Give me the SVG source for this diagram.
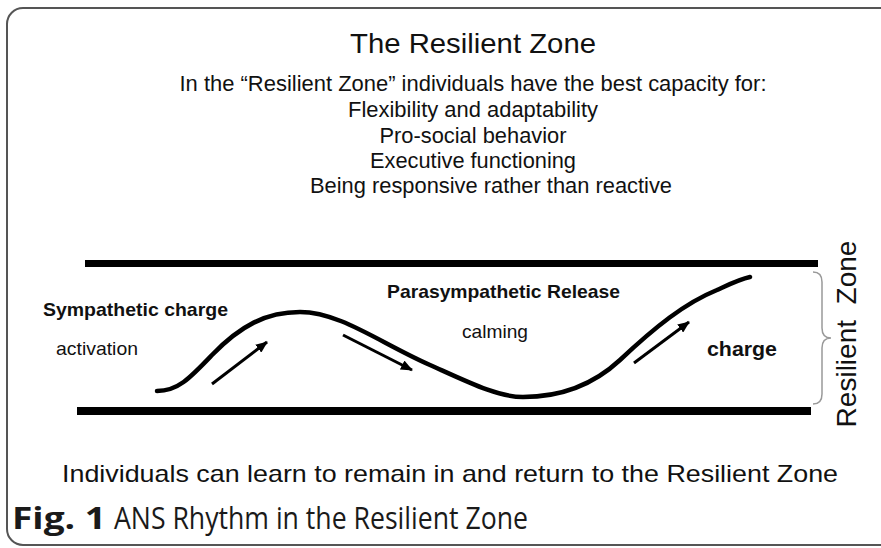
<svg xmlns="http://www.w3.org/2000/svg" width="881" height="548" viewBox="0 0 881 548">
  <defs>
    <marker id="head" markerWidth="12" markerHeight="10" refX="11" refY="5" orient="auto" markerUnits="userSpaceOnUse">
      <path d="M0,0 L12,5 L0,10 Z" fill="#000"/>
    </marker>
    <style>
      text { font-family: "Liberation Sans", Arial, sans-serif; fill: #111; }
      .mid { text-anchor: middle; }
      .bold { font-weight: bold; }
      .bar { fill: #000; }
      .wave { fill: none; stroke: #000; stroke-width: 4.5; stroke-linecap: round; }
      .flow { fill: none; stroke: #000; stroke-width: 3; marker-end: url(#head); }
      .cap { font-family: "Open Sans", "Noto Sans", sans-serif; fill: #1a1a1a; }
    </style>
  </defs>

  <rect width="881" height="548" fill="#fff"/>
  <!-- frame -->
  <rect x="7" y="8" width="900" height="537" rx="16" fill="none" stroke="#555" stroke-width="2"/>

  <!-- heading block -->
  <g id="heading">
    <text x="473" y="53" font-size="28" textLength="246" lengthAdjust="spacingAndGlyphs" class="mid">The Resilient Zone</text>
    <text x="473" y="91" font-size="22.5" textLength="587" lengthAdjust="spacingAndGlyphs" class="mid">In the “Resilient Zone” individuals have the best capacity for:</text>
    <text x="473" y="117" font-size="22.5" textLength="250" lengthAdjust="spacingAndGlyphs" class="mid">Flexibility and adaptability</text>
    <text x="473" y="143" font-size="22.5" textLength="187" lengthAdjust="spacingAndGlyphs" class="mid">Pro-social behavior</text>
    <text x="473" y="168" font-size="22.5" textLength="206" lengthAdjust="spacingAndGlyphs" class="mid">Executive functioning</text>
    <text x="491" y="193" font-size="22.5" textLength="362" lengthAdjust="spacingAndGlyphs" class="mid">Being responsive rather than reactive</text>
  </g>

  <!-- zone boundaries -->
  <g id="upper-bound"><rect class="bar" x="85" y="260" width="733" height="7"/></g>
  <g id="lower-bound"><rect class="bar" x="77" y="407" width="734" height="8"/></g>

  <!-- zone brace and label -->
  <g id="zone-label">
    <path d="M813,272 Q822,272 822,282 L822,328 Q822,338 831,338 Q822,338 822,348 L822,394 Q822,404 813,404" fill="none" stroke="#999" stroke-width="1.5"/>
    <text transform="translate(856,334) rotate(-90)" font-size="28" class="mid" xml:space="preserve">Resilient  Zone</text>
  </g>

  <!-- phase labels -->
  <g id="sympathetic">
    <text x="43" y="316" font-size="19" class="bold" textLength="185" lengthAdjust="spacingAndGlyphs">Sympathetic charge</text>
    <text x="56" y="355" font-size="19" textLength="82" lengthAdjust="spacingAndGlyphs">activation</text>
  </g>
  <g id="parasympathetic">
    <text x="387" y="298" font-size="19" class="bold" textLength="233" lengthAdjust="spacingAndGlyphs">Parasympathetic Release</text>
    <text x="462" y="338" font-size="19" textLength="66" lengthAdjust="spacingAndGlyphs">calming</text>
  </g>
  <g id="recharge">
    <text x="707" y="356" font-size="21" class="bold" textLength="70" lengthAdjust="spacingAndGlyphs">charge</text>
  </g>

  <!-- rhythm curve and direction arrows -->
  <g id="connectors">
    <path class="wave" d="M157,391 C178,391 190,378 212,355 C240,326 266,312 300,312 C340,312 380,343 430,365 C470,383 498,397 523,397 C560,397 592,386 620,360 C655,327 685,303 717,290 C730,284 740,279 750,277"/>
    <line class="flow" x1="212" y1="384" x2="267" y2="342"/>
    <line class="flow" x1="343" y1="335" x2="412" y2="370"/>
    <line class="flow" x1="634" y1="363" x2="689" y2="322"/>
  </g>

  <!-- closing statement -->
  <g id="summary">
    <text x="450" y="482" font-size="24" textLength="776" lengthAdjust="spacingAndGlyphs" class="mid">Individuals can learn to remain in and return to the Resilient Zone</text>
  </g>

  <!-- caption -->
  <g id="caption">
    <text x="12" y="529" font-size="31" class="cap"><tspan font-weight="bold" textLength="94" lengthAdjust="spacingAndGlyphs">Fig. 1</tspan><tspan x="114" textLength="414" lengthAdjust="spacingAndGlyphs">ANS Rhythm in the Resilient Zone</tspan></text>
  </g>
</svg>
